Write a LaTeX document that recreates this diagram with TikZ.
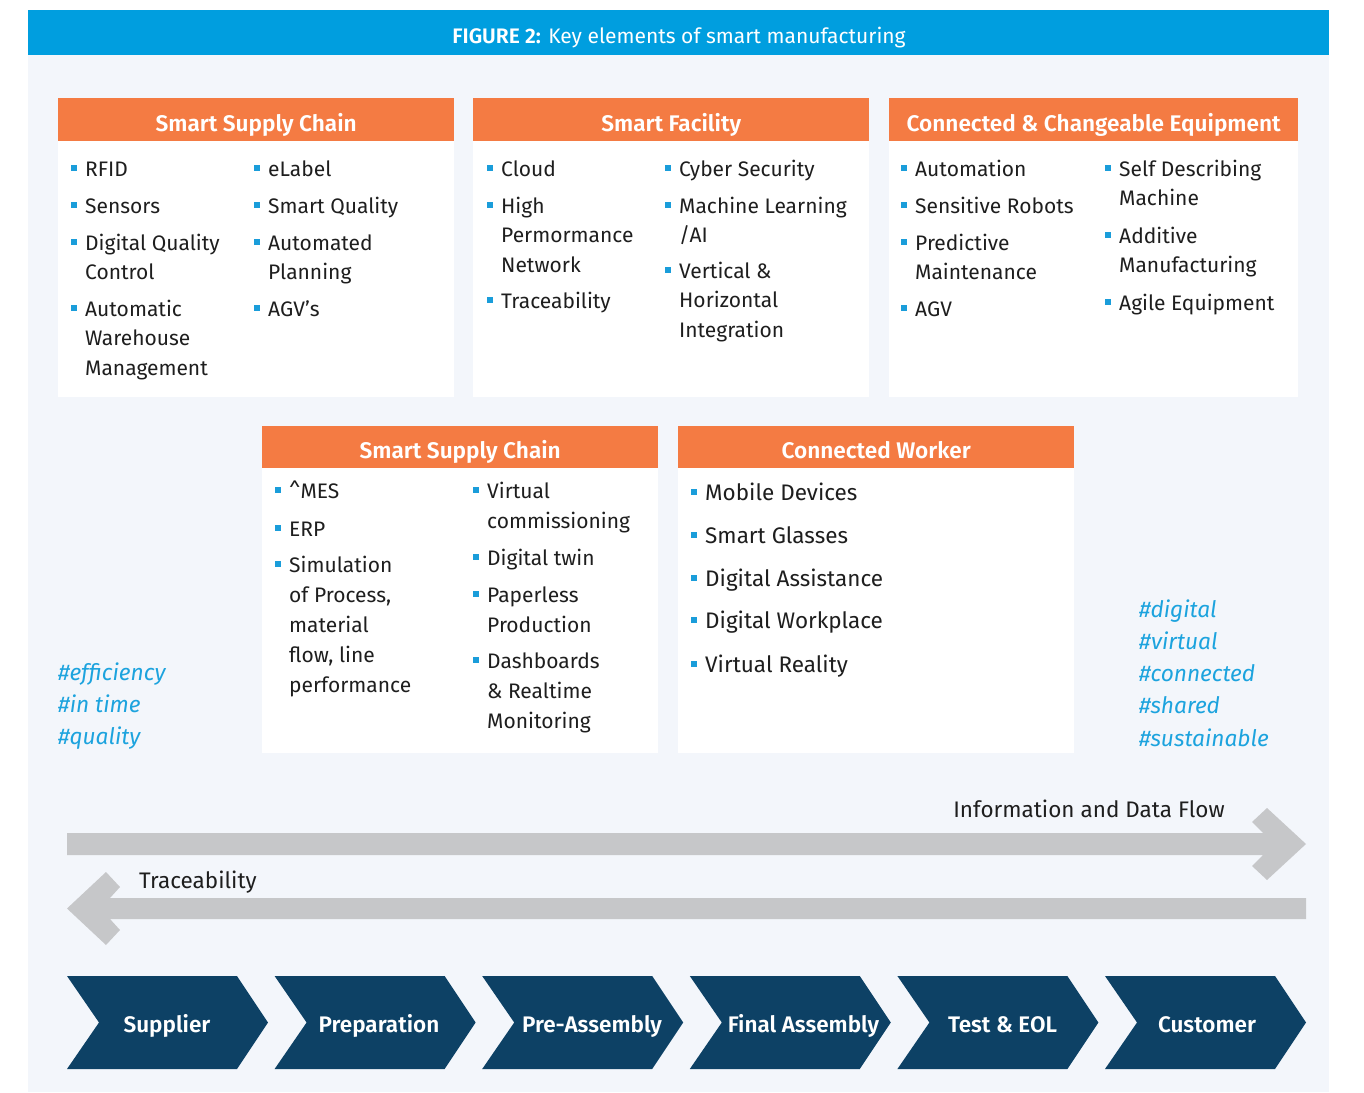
\documentclass[tikz,border=0pt]{standalone}
\usepackage{fontspec}
\setmainfont{Fira Sans}[BoldFont={Fira Sans SemiBold}]
\definecolor{bannerblue}{HTML}{009EDF}
\definecolor{panelbg}{HTML}{F3F6FB}
\definecolor{hdrorange}{HTML}{F47B43}
\definecolor{navy}{HTML}{0D4165}
\definecolor{arrowgrey}{HTML}{C6C7C9}
\definecolor{bulblue}{HTML}{1A9DDA}
\definecolor{hashblue}{HTML}{1CA3DE}
\definecolor{bodytext}{HTML}{1E1E1E}
\newcommand\fst{\rule{0pt}{18pt}}
\newcommand\bul{\llap{\textcolor{bulblue}{\rule[5pt]{6pt}{6pt}}\hspace{8pt}}\fst}
\begin{document}
\begin{tikzpicture}[x=1pt,y=-1pt,
  hdr/.style={fill=hdrorange, text=white, font=\bfseries\fontsize{22.6}{28}\selectfont,
    inner sep=0pt, minimum height=43pt, text height=23pt, text depth=0pt, anchor=north west},
  card/.style={fill=white, inner sep=0pt, anchor=north west},
  itm/.style={anchor=north west, inner sep=0pt, align=left, text=bodytext, yshift=18pt,
    font=\fontsize{21}{29.5}\selectfont},
  itmw/.style={itm, font=\fontsize{21}{30}\selectfont},
  itmb/.style={itm, font=\fontsize{22.5}{30}\selectfont},
  hash/.style={anchor=north west, inner sep=0pt, align=left, text=hashblue, yshift=18pt,
    font=\itshape\fontsize{22.7}{32.2}\selectfont},
  lbl/.style={inner sep=0pt, text=bodytext, font=\fontsize{22.5}{26}\selectfont},
  chev/.style={fill=navy},
  chevtxt/.style={anchor=base, inner sep=0pt, text=white, font=\bfseries\fontsize{22.5}{28}\selectfont},
  flow/.style={fill=arrowgrey}
]
\useasboundingbox (0,0) rectangle (1364,1092);
\fill[white] (0,0) rectangle (1364,1092);
\fill[panelbg] (28,55) rectangle (1329,1092);
\fill[bannerblue] (28,10) rectangle (1329,55);
\node[anchor=base, inner sep=0pt, text=white, font=\fontsize{21}{25}\selectfont] (title) at (679,43)
  {\textbf{FIGURE 2:} Key elements of smart manufacturing};

% ---------- top row ----------
\node[card, minimum width=396pt, minimum height=256pt] (b1) at (58,141) {};
\node[hdr, minimum width=396pt] (h1) at (58,98) {Smart Supply Chain};
\node[itm] (b1a) at (85,176) {\bul RFID};
\node[itm] (b1b) at (85,213) {\bul Sensors};
\node[itm] (b1c) at (85,250) {\bul Digital Quality\\Control};
\node[itm] (b1d) at (85,316) {\bul Automatic\\Warehouse\\Management};
\node[itm] (b1e) at (268,176) {\bul eLabel};
\node[itm] (b1f) at (268,213) {\bul Smart Quality};
\node[itm] (b1g) at (268,250) {\bul Automated\\Planning};
\node[itm] (b1h) at (268,316) {\bul AGV’s};

\node[card, minimum width=396pt, minimum height=256pt] (b2) at (473,141) {};
\node[hdr, minimum width=396pt] (h2) at (473,98) {Smart Facility};
\node[itm] (b2a) at (501,176) {\bul Cloud};
\node[itm] (b2b) at (501,213) {\bul High\\Permormance\\Network};
\node[itm] (b2c) at (501,308) {\bul Traceability};
\node[itm] (b2d) at (679,176) {\bul Cyber Security};
\node[itm] (b2e) at (679,213) {\bul Machine Learning\\/AI};
\node[itm] (b2f) at (679,278) {\bul Vertical \&\\Horizontal\\Integration};

\node[card, minimum width=409pt, minimum height=256pt] (b3) at (889,141) {};
\node[hdr, minimum width=409pt] (h3) at (889,98) {Connected \& Changeable Equipment};
\node[itm] (b3a) at (915,176) {\bul Automation};
\node[itm] (b3b) at (915,213) {\bul Sensitive Robots};
\node[itm] (b3c) at (915,250) {\bul Predictive\\Maintenance};
\node[itm] (b3d) at (915,316) {\bul AGV};
\node[itm] (b3e) at (1119,176) {\bul Self Describing\\Machine};
\node[itm] (b3f) at (1119,243) {\bul Additive\\Manufacturing};
\node[itm] (b3g) at (1119,310) {\bul Agile Equipment};

% ---------- middle row ----------
\node[card, minimum width=396pt, minimum height=285pt] (b4) at (262,468) {};
\node[hdr, minimum width=396pt, minimum height=42pt] (h4) at (262,426) {Smart Supply Chain};
\node[itmw] (b4a) at (289,498) {\bul \textasciicircum MES};
\node[itmw] (b4b) at (289,536) {\bul ERP};
\node[itmw] (b4c) at (289,572) {\bul Simulation\\of Process,\\material\\flow, line\\performance};
\node[itmw] (b4d) at (487,498) {\bul Virtual\\commissioning};
\node[itmw] (b4e) at (487,565) {\bul Digital twin};
\node[itmw] (b4f) at (487,602) {\bul Paperless\\Production};
\node[itmw] (b4g) at (487,668) {\bul Dashboards\\\& Realtime\\Monitoring};

\node[card, minimum width=396pt, minimum height=285pt] (b5) at (678,468) {};
\node[hdr, minimum width=396pt, minimum height=42pt] (h5) at (678,426) {Connected Worker};
\node[itmb] (b5a) at (705,500) {\bul Mobile Devices};
\node[itmb] (b5b) at (705,543) {\bul Smart Glasses};
\node[itmb] (b5c) at (705,586) {\bul Digital Assistance};
\node[itmb] (b5d) at (705,628) {\bul Digital Workplace};
\node[itmb] (b5e) at (705,672) {\bul Virtual Reality};

% ---------- hashtags ----------
\node[hash] (hl) at (58,680) {\fst\#efficiency\\\#in time\\\#quality};
\node[hash] (hr) at (1139,617) {\fst\#digital\\\#virtual\\\#connected\\\#shared\\\#sustainable};

% ---------- flow arrows ----------
\fill[flow] (67,833) -- (1263,833) -- (1252,822) -- (1267,808) -- (1306,844)
  -- (1267,880) -- (1252,866) -- (1263,855) -- (67,855) -- cycle;
\node[lbl, anchor=base] (infoflow) at (1089,817) {Information and Data Flow};
\fill[flow] (1306,898) -- (110,898) -- (120,887) -- (106,872) -- (67,908.5)
  -- (106,945) -- (120,930) -- (110,919) -- (1306,919) -- cycle;
\node[lbl, anchor=base west] (trace) at (139,888) {Traceability};

% ---------- process chevrons ----------
\foreach \L/\c/\t [count=\i] in {67/167/Supplier, 274.6/379/Preparation, 482.2/592/Pre-Assembly,
    689.8/803.5/Final Assembly, 897.4/1002.5/Test \& EOL, 1105/1207/Customer}{
  \fill[chev] (\L,976) -- (\L+170,976) -- (\L+201,1022.5) -- (\L+170,1069)
    -- (\L,1069) -- (\L+32,1022.5) -- cycle;
  \node[chevtxt] (p\i) at (\c,1032) {\t};
}
\end{tikzpicture}
\end{document}
